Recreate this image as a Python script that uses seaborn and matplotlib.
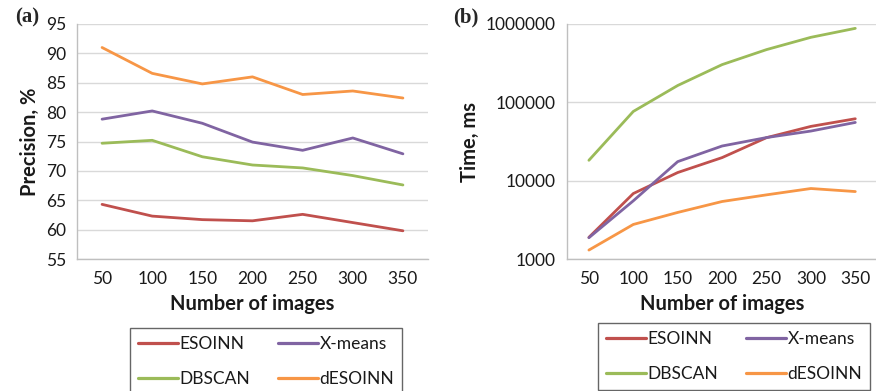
import matplotlib
matplotlib.use("Agg")
import matplotlib.pyplot as plt
import matplotlib.ticker as mticker
from matplotlib.lines import Line2D
import seaborn as sns
import pandas as pd
import numpy as np

images = [50, 100, 150, 200, 250, 300, 350]
methods = ["ESOINN", "X-means", "DBSCAN", "dESOINN"]

prec_esoinn = [64.3, 62.3, 61.7, 61.5, 62.6, 61.2, 59.8]
prec_xmeans = [78.8, 80.2, 78.1, 74.9, 73.5, 75.6, 72.9]
prec_dbscan = [74.7, 75.2, 72.4, 71.0, 70.5, 69.2, 67.6]
prec_desoinn = [91.0, 86.6, 84.8, 86.0, 83.0, 83.6, 82.4]

time_esoinn = [1890, 6850, 12700, 19700, 35400, 49300, 61700]
time_xmeans = [1870, 5530, 17500, 27700, 35500, 43000, 55400]
time_dbscan = [18200, 76500, 164000, 303000, 471000, 676000, 880000]
time_desoinn = [1300, 2760, 3930, 5420, 6590, 7940, 7260]

colors = {"ESOINN": "#C0504D", "X-means": "#8064A2",
          "DBSCAN": "#9BBB59", "dESOINN": "#F79646"}

def long_df(series):
    rows = []
    for m, vals in zip(methods, series):
        for x, v in zip(images, vals):
            rows.append({"images": x, "value": v, "method": m})
    return pd.DataFrame(rows)

df_prec = long_df([prec_esoinn, prec_xmeans, prec_dbscan, prec_desoinn])
df_time = long_df([time_esoinn, time_xmeans, time_dbscan, time_desoinn])

sns.set_style("white")
plt.rcParams["font.family"] = ["Lato", "DejaVu Sans"]

fig = plt.figure(figsize=(8.76, 3.91), dpi=100)
axA = fig.add_axes([77/876, 1-259/391, 351/876, 235/391])
axB = fig.add_axes([566.7/876, 1-259/391, 310.8/876, 235/391])

grid_c = "#D9D9D9"
spine_c = "#BFBFBF"
text_c = "#1a1a1a"

for ax, df in ((axA, df_prec), (axB, df_time)):
    sns.lineplot(data=df, x="images", y="value", hue="method", hue_order=methods,
                 palette=colors, linewidth=2.0, ax=ax, legend=False)
    ax.set_xlim(25, 375)
    ax.set_xticks(images)
    ax.set_xticks([75, 125, 175, 225, 275, 325, 375], minor=True)
    ax.tick_params(axis="x", which="major", length=0, labelsize=12.5, pad=9, colors=text_c)
    ax.tick_params(axis="x", which="minor", length=5, width=1, color=spine_c, direction="out")
    ax.tick_params(axis="y", which="major", length=5, width=1, color=spine_c,
                   labelsize=12.5, pad=3, labelcolor=text_c, direction="out")
    ax.tick_params(axis="y", which="minor", length=0)
    ax.grid(axis="y", color=grid_c, linewidth=1)
    ax.set_axisbelow(True)
    for s in ("top", "right"):
        ax.spines[s].set_visible(False)
    for s in ("left", "bottom"):
        ax.spines[s].set_color(spine_c)
        ax.spines[s].set_linewidth(1)
    ax.set_xlabel("Number of images", fontsize=14.5, fontweight="bold", labelpad=5,
                  color=text_c)

axA.set_ylim(55, 95)
axA.set_yticks(np.arange(55, 96, 5))
axA.set_ylabel("Precision, %", fontsize=14.5, fontweight="bold", labelpad=4, color=text_c)

axB.set_yscale("log")
axB.set_ylim(1000, 1000000)
axB.yaxis.set_major_locator(mticker.FixedLocator([1000, 10000, 100000, 1000000]))
axB.yaxis.set_minor_locator(mticker.NullLocator())
axB.yaxis.set_major_formatter(mticker.FuncFormatter(lambda v, p: f"{int(round(v))}"))
axB.set_ylabel("Time, ms", fontsize=14.5, fontweight="bold", labelpad=4, color=text_c)

fig.text(15/876, 1-17/391, "(a)", fontsize=15, fontweight="bold",
         family=["Liberation Serif", "DejaVu Serif"], va="center", ha="left")
fig.text(453/876, 1-17/391, "(b)", fontsize=15, fontweight="bold",
         family=["Liberation Serif", "DejaVu Serif"], va="center", ha="left")

leg_order = ["ESOINN", "DBSCAN", "X-means", "dESOINN"]
handles = [Line2D([], [], color=colors[m], linewidth=2.3) for m in leg_order]
for x0, ytop in ((130/876, 1-328/391), (598/876, 1-323/391)):
    leg = fig.legend(handles, leg_order, ncol=2, loc="upper left",
                     bbox_to_anchor=(x0, ytop), fontsize=12.5, frameon=True,
                     handlelength=2.3, handletextpad=0.1, columnspacing=1.6,
                     labelspacing=1.1, borderpad=0.45, borderaxespad=0,
                     fancybox=False, labelcolor=text_c)
    leg.get_frame().set_edgecolor("#404040")
    leg.get_frame().set_linewidth(1)

fig.savefig("out.png", dpi=100)
